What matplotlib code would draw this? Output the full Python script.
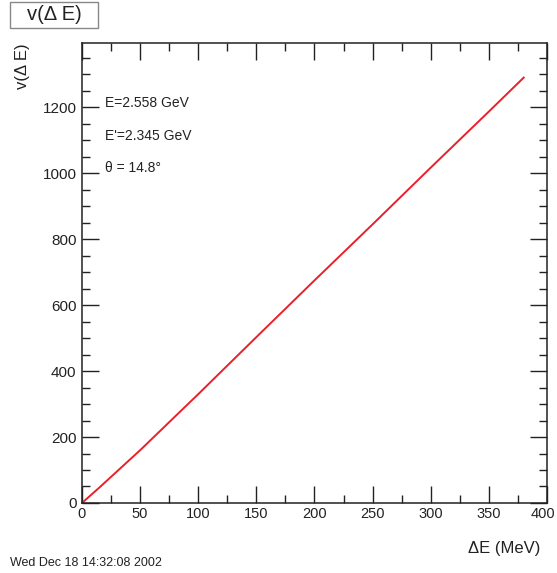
import matplotlib.pyplot as plt
from matplotlib.ticker import MultipleLocator
from matplotlib.patches import Rectangle
from matplotlib.transforms import ScaledTranslation

plt.rcParams['font.family'] = ['Liberation Sans', 'DejaVu Sans']

# nu(Delta E)
delta_e = [0, 15, 50, 100, 150, 200, 250, 300, 350, 380]
nu = [0, 47, 160, 330, 503, 675, 845, 1017, 1187, 1290]

labels = ["E=2.558 GeV", "E'=2.345 GeV", "θ = 14.8°"]
xticks = [0, 50, 100, 150, 200, 250, 300, 350, 400]

fig = plt.figure(figsize=(5.57, 5.73), dpi=100)
ax = fig.add_axes([0.1472, 0.1222, 0.8348, 0.8028])

ax.plot(delta_e, nu, color='#e8202a', lw=1.4)
ax.set_xlim(0, 400)
ax.set_ylim(0, 1395)

ax.set_xticks(xticks)
ax.xaxis.set_minor_locator(MultipleLocator(25))
ax.yaxis.set_major_locator(MultipleLocator(200))
ax.yaxis.set_minor_locator(MultipleLocator(50))
ax.tick_params(which='both', direction='in', top=True, right=True,
               labelsize=11, colors='#222222')
ax.tick_params(which='major', length=12, width=1)
ax.tick_params(which='minor', length=6, width=1)
ax.tick_params(axis='x', pad=3, labelsize=10.5)
ax.tick_params(axis='y', pad=4)
for s in ax.spines.values():
    s.set_linewidth(1.1)
    s.set_color('#222222')

# nudge the "400" label so it stays inside the canvas
last = ax.xaxis.get_major_ticks()[-1].label1
last.set_transform(last.get_transform() + ScaledTranslation(-4 / 100, 0, fig.dpi_scale_trans))

for i, t in enumerate(labels):
    fig.text(0.188, 0.82 - i * 0.057, t, fontsize=10, va='center', color='#222222')

fig.text(0.97, 0.042, 'ΔE (MeV)', fontsize=12, ha='right', va='center', color='#222222')
fig.text(0.04, 0.925, 'v(Δ E)', fontsize=12, rotation=90, ha='center', va='top', color='#222222')

# title box
fig.add_artist(Rectangle((10 / 557, 1 - 28 / 573), 88 / 557, 26 / 573,
                         transform=fig.transFigure, fc='white', ec='#888888', lw=1))
fig.text(54 / 557, 1 - 15 / 573, 'v(Δ E)', fontsize=14.5, ha='center', va='center', color='#222222')
fig.text(0.018, 0.017, 'Wed Dec 18 14:32:08 2002', fontsize=9, va='center', color='#222222')

fig.savefig('out.png', dpi=100)
